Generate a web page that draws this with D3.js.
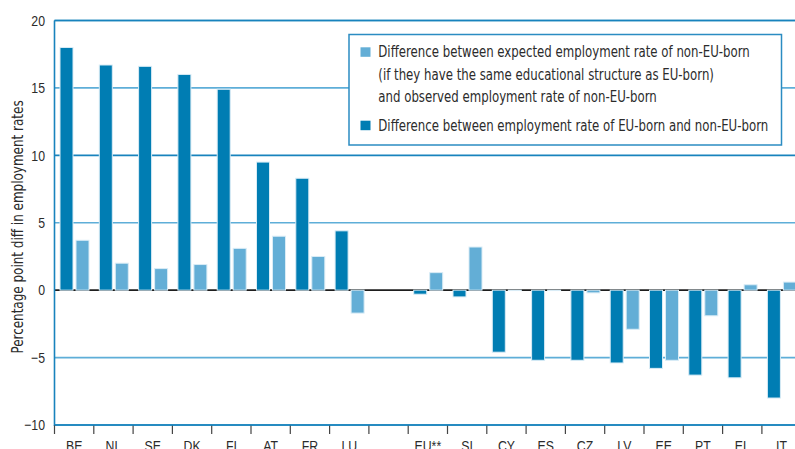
<!DOCTYPE html>
<html>
<head>
<meta charset="utf-8">
<script src="https://cdn.jsdelivr.net/npm/d3@7"></script>
<style>
  html, body { margin: 0; padding: 0; background: #fff; overflow: hidden; }
  svg { display: block; font-family: "DejaVu Sans Condensed", "Liberation Sans Narrow", sans-serif; }
</style>
</head>
<body>
<svg id="chart" width="795" height="449"></svg>
<script>
// Countries (blank slot separates national values from the EU aggregate)
const categories = ["BE","NL","SE","DK","FI","AT","FR","LU"," ","EU**","SI","CY","ES","CZ","LV","EE","PT","EL","IT"];
// Difference between employment rate of EU-born and non-EU-born (pp)
const gapBorn = [18.0, 16.7, 16.6, 16.0, 14.9, 9.5, 8.3, 4.4, null, -0.3, -0.5, -4.6, -5.2, -5.2, -5.4, -5.8, -6.3, -6.5, -8.0];
// Difference between expected (same educational structure) and observed rate of non-EU-born (pp)
const gapEducation = [3.7, 2.0, 1.6, 1.9, 3.1, 4.0, 2.5, -1.7, null, 1.3, 3.2, 0.0, 0.0, -0.2, -2.9, -5.2, -1.9, 0.4, 0.6];
const yTicks = [-10, -5, 0, 5, 10, 15, 20];
const legendLabels = [
  ["Difference between expected employment rate of non-EU-born",
   "(if they have the same educational structure as EU-born)",
   "and observed employment rate of non-EU-born"],
  ["Difference between employment rate of EU-born and non-EU-born"]
];
const yTitle = "Percentage point diff in employment rates";

const DARK = "#007db3", LIGHT = "#63aed6", EDGE = "#d9ecf6";
const GRID_MAJOR = "#1883bd", GRID_MINOR = "#5eaed8";
const INK = "#2b2b2b";

const svg = d3.select("#chart");
const plotL = 54.5, plotR = 801.2, plotT = 20.5, plotB = 425;

const x = d3.scaleBand().domain(categories).range([plotL, plotR]).paddingInner(0).paddingOuter(0);
const sub = d3.scaleBand().domain(["born", "edu"]).range([5.5, 34.5]).paddingInner(0.1875);
const y = d3.scaleLinear().domain([-10, 20]).range([plotB, plotT]);

// horizontal gridlines
svg.append("g").selectAll("line")
  .data(yTicks.filter(t => t !== 0))
  .join("line")
  .attr("x1", plotL).attr("x2", 795)
  .attr("y1", d => y(d)).attr("y2", d => y(d))
  .attr("stroke", d => d % 10 === 0 ? GRID_MAJOR : GRID_MINOR)
  .attr("stroke-width", 1.6);

// zero line
svg.append("line")
  .attr("x1", plotL).attr("x2", 795)
  .attr("y1", y(0)).attr("y2", y(0))
  .attr("stroke", "#1e1e1e").attr("stroke-width", 1.6);

// left axis line
svg.append("line")
  .attr("x1", plotL).attr("x2", plotL)
  .attr("y1", plotT).attr("y2", plotB + 1)
  .attr("stroke", GRID_MAJOR).attr("stroke-width", 1.6);

// bars
const rows = categories.map((c, i) => ({ c, born: gapBorn[i], edu: gapEducation[i] }));
const series = [
  { key: "born", color: DARK },
  { key: "edu", color: LIGHT }
];
series.forEach(s => {
  svg.append("g").selectAll("rect")
    .data(rows.filter(r => r[s.key] !== null))
    .join("rect")
    .attr("x", d => x(d.c) + sub(s.key))
    .attr("width", sub.bandwidth())
    .attr("y", d => Math.min(y(d[s.key]), y(0)))
    .attr("height", d => Math.max(Math.abs(y(d[s.key]) - y(0)), 0.4))
    .attr("fill", s.color)
    .attr("stroke", EDGE)
    .attr("stroke-width", 1);
});

// y axis labels (narrowed horizontally to a condensed look)
const SX_TICK = 0.82;
const yAxis = svg.append("g")
  .attr("transform", `translate(${plotL},0)`)
  .call(d3.axisLeft(y).tickValues(yTicks).tickSize(0).tickPadding(0).tickFormat(d3.format("d")));
yAxis.select(".domain").remove();
yAxis.selectAll("text")
  .attr("font-size", 15).attr("fill", INK)
  .attr("font-family", null)
  .attr("x", -9.5 / SX_TICK)
  .attr("transform", `scale(${SX_TICK},1)`);

// x axis: labels centred in bands, tick marks at band edges
const xAxis = svg.append("g")
  .attr("transform", `translate(0,${plotB})`)
  .call(d3.axisBottom(x).tickSize(0).tickPadding(15));
xAxis.select(".domain").remove();
xAxis.selectAll("text")
  .attr("font-size", 15).attr("fill", INK)
  .attr("font-family", null)
  .attr("transform", `scale(${SX_TICK},1)`);

svg.append("g").selectAll("line")
  .data(categories)
  .join("line")
  .attr("x1", d => x(d)).attr("x2", d => x(d))
  .attr("y1", plotB).attr("y2", plotB + 9)
  .attr("stroke", "#444").attr("stroke-width", 1.2);

// top and bottom frame lines
svg.append("line")
  .attr("x1", plotL).attr("x2", 795)
  .attr("y1", y(-10)).attr("y2", y(-10))
  .attr("stroke", GRID_MAJOR).attr("stroke-width", 1.6);
svg.append("line")
  .attr("x1", plotL).attr("x2", 795)
  .attr("y1", y(20)).attr("y2", y(20))
  .attr("stroke", GRID_MAJOR).attr("stroke-width", 1.6);

// y axis title
svg.append("text")
  .attr("transform", `translate(23,227) rotate(-90) scale(0.86,1)`)
  .attr("text-anchor", "middle")
  .attr("font-size", 15.5).attr("fill", INK)
  .text(yTitle);

// legend
const SX_LEGEND = 0.818;
const lg = svg.append("g");
lg.append("rect")
  .attr("x", 349).attr("y", 34.5).attr("width", 432.5).attr("height", 110.5)
  .attr("fill", "#fff").attr("stroke", "#2b8cc2").attr("stroke-width", 1.5);
const legendItems = [
  { color: LIGHT, lines: legendLabels[0], y0: 57.3 },
  { color: DARK, lines: legendLabels[1], y0: 130.7 }
];
legendItems.forEach(item => {
  lg.append("rect")
    .attr("x", 360.5).attr("y", item.y0 - 10).attr("width", 10).attr("height", 9.5)
    .attr("fill", item.color);
  item.lines.forEach((t, k) => {
    lg.append("text")
      .attr("transform", `translate(378.3,${item.y0 + k * 22.2}) scale(${SX_LEGEND},1)`)
      .attr("font-size", 16).attr("fill", INK)
      .text(t);
  });
});
</script>
</body>
</html>
